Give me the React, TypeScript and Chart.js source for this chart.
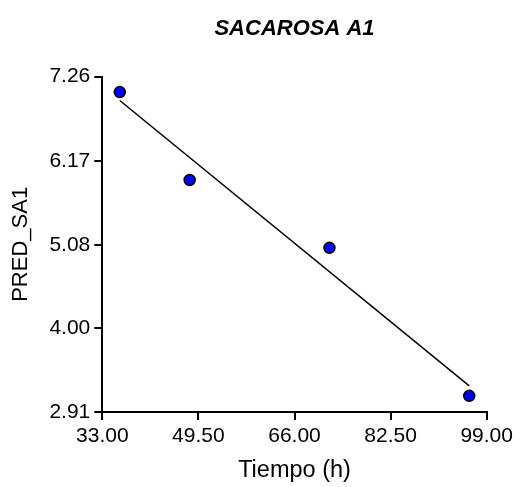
import React, { useEffect, useRef } from "react";
import { Chart, registerables } from "chart.js";

Chart.register(...registerables);

const chartTitle = "SACAROSA A1";
const xAxisTitle = "Tiempo (h)";
const yAxisTitle = "PRED_SA1";

const tiempo = [36, 48, 72, 96];
const predSA1 = [7.06, 5.92, 5.04, 3.12];

const xTicks = [33.0, 49.5, 66.0, 82.5, 99.0];
const yTicks = [2.91, 4.0, 5.08, 6.17, 7.26];

const FONT = "'Liberation Sans', Arial, Helvetica, sans-serif";

function linearFit(xs: number[], ys: number[]) {
  const n = xs.length;
  const mx = xs.reduce((a, b) => a + b, 0) / n;
  const my = ys.reduce((a, b) => a + b, 0) / n;
  let sxy = 0;
  let sxx = 0;
  for (let i = 0; i < n; i++) {
    sxy += (xs[i] - mx) * (ys[i] - my);
    sxx += (xs[i] - mx) * (xs[i] - mx);
  }
  const slope = sxy / sxx;
  const intercept = my - slope * mx;
  return { slope, intercept };
}

const centeredTitle = {
  id: "centeredTitle",
  afterDraw(chart: any) {
    const { ctx, chartArea } = chart;
    ctx.save();
    ctx.font = `italic bold 22px ${FONT}`;
    ctx.fillStyle = "#000";
    ctx.textAlign = "center";
    ctx.textBaseline = "alphabetic";
    ctx.fillText(chartTitle, (chartArea.left + chartArea.right) / 2, 35);
    ctx.restore();
  },
};

export default function App() {
  const canvasRef = useRef<HTMLCanvasElement | null>(null);

  useEffect(() => {
    if (!canvasRef.current) return;
    const { slope, intercept } = linearFit(tiempo, predSA1);
    const xMin = Math.min(...tiempo);
    const xMax = Math.max(...tiempo);
    const fitLine = [
      { x: xMin, y: intercept + slope * xMin },
      { x: xMax, y: intercept + slope * xMax },
    ];
    const points = tiempo.map((x, i) => ({ x, y: predSA1[i] }));

    const chart = new Chart(canvasRef.current, {
      type: "scatter",
      data: {
        datasets: [
          {
            data: points,
            pointRadius: 5.5,
            pointBorderWidth: 1.5,
            backgroundColor: "#0000ff",
            borderColor: "#000000",
            showLine: false,
            order: 0,
          },
          {
            data: fitLine,
            showLine: true,
            pointRadius: 0,
            borderColor: "#000000",
            borderWidth: 1.5,
            fill: false,
            order: 1,
          },
        ],
      },
      options: {
        animation: false,
        responsive: true,
        maintainAspectRatio: false,
        layout: { padding: { top: 76.7, right: 31.3, left: 0, bottom: 0 } },
        plugins: {
          legend: { display: false },
          title: { display: false },
          tooltip: { enabled: false },
        },
        scales: {
          x: {
            type: "linear",
            min: xTicks[0],
            max: xTicks[xTicks.length - 1],
            afterBuildTicks: (scale: any) => {
              scale.ticks = xTicks.map((v) => ({ value: v }));
            },
            afterFit: (scale: any) => {
              scale.height = 75;
            },
            ticks: {
              callback: (v: any) => Number(v).toFixed(2),
              font: { family: FONT, size: 21 },
              color: "#000",
              padding: 4,
              maxRotation: 0,
              autoSkip: false,
            },
            grid: {
              display: true,
              drawOnChartArea: false,
              drawTicks: true,
              tickLength: 8,
              color: "#000",
              lineWidth: 2,
            },
            border: { display: true, color: "#000", width: 2 },
            title: {
              display: true,
              text: xAxisTitle,
              font: { family: FONT, size: 23.5 },
              color: "#000",
              padding: { top: 0, bottom: 2 },
            },
          },
          y: {
            type: "linear",
            min: yTicks[0],
            max: yTicks[yTicks.length - 1],
            afterBuildTicks: (scale: any) => {
              scale.ticks = yTicks.map((v) => ({ value: v }));
            },
            afterFit: (scale: any) => {
              scale.width = 102.3;
            },
            ticks: {
              callback: (v: any) => Number(v).toFixed(2),
              font: { family: FONT, size: 21 },
              color: "#000",
              padding: 4,
              autoSkip: false,
            },
            grid: {
              display: true,
              drawOnChartArea: false,
              drawTicks: true,
              tickLength: 8,
              color: "#000",
              lineWidth: 2,
            },
            border: { display: true, color: "#000", width: 2 },
            title: {
              display: true,
              text: yAxisTitle,
              font: { family: FONT, size: 22 },
              color: "#000",
              padding: { top: 8, bottom: 0 },
            },
          },
        },
      },
      plugins: [centeredTitle],
    } as any);

    return () => chart.destroy();
  }, []);

  return (
    <div style={{ position: "absolute", left: 0, top: 0, width: 518, height: 487, background: "#fff" }}>
      <canvas ref={canvasRef} style={{ display: "block" }} />
    </div>
  );
}
